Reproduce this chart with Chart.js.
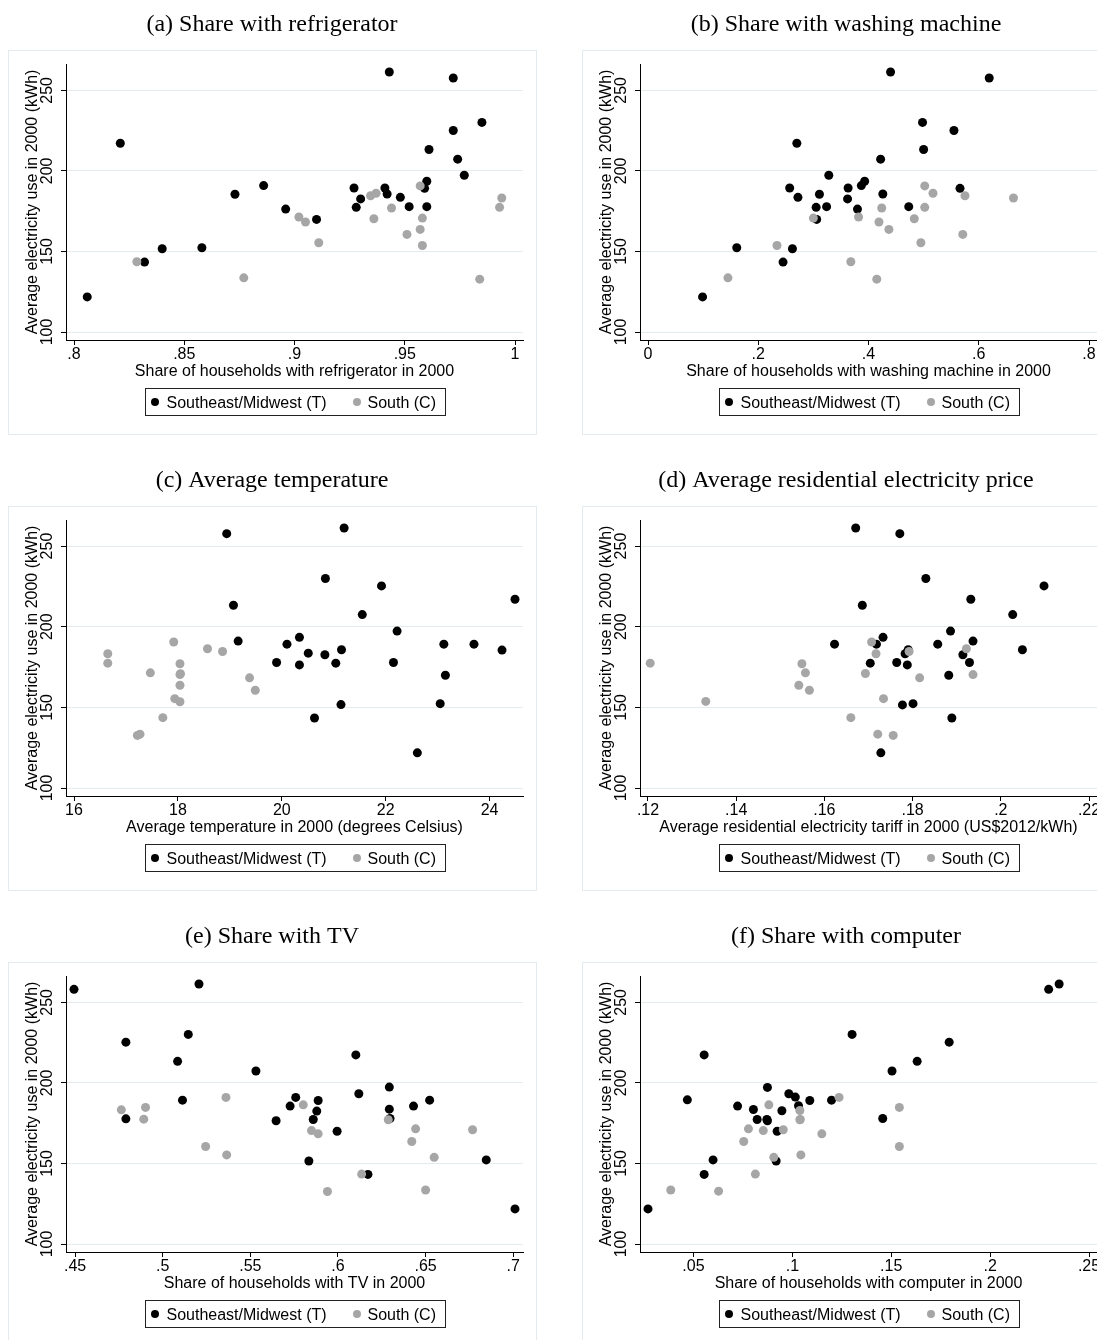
<!DOCTYPE html>
<html>
<head>
<meta charset="utf-8">
<script src="https://cdn.jsdelivr.net/npm/chart.js@4.4.0/dist/chart.umd.min.js"></script>
<style>
  html, body { margin: 0; padding: 0; background: #fff; }
  body { width: 1097px; height: 1340px; overflow: hidden; position: relative; }
  canvas { position: absolute; }
</style>
</head>
<body>
<canvas id="pa" width="574" height="456" style="left:0;top:0"></canvas>
<canvas id="pb" width="574" height="456" style="left:574px;top:0"></canvas>
<canvas id="pc" width="574" height="456" style="left:0;top:456px"></canvas>
<canvas id="pd" width="574" height="456" style="left:574px;top:456px"></canvas>
<canvas id="pe" width="574" height="456" style="left:0;top:912px"></canvas>
<canvas id="pf" width="574" height="456" style="left:574px;top:912px"></canvas>
<script>
// y axis, shared by all panels
const yTicks = [100, 150, 200, 250];
const yTickLabels = ["100", "150", "200", "250"];
const yTitle = "Average electricity use in 2000 (kWh)";
const legendLabels = ["Southeast/Midwest (T)", "South (C)"];

// (a) refrigerator
const fridgeTicks = [0.8, 0.85, 0.9, 0.95, 1];
const fridgeLabels = [".8", ".85", ".9", ".95", "1"];
const fridgeT = [[.806,121.8],[.821,217.2],[.832,143.4],[.840,151.7],[.858,152.3],[.873,185.5],[.886,190.9],[.896,176.3],[.910,169.9],[.927,189.4],[.928,177.4],[.930,182.6],[.941,189.4],[.942,185.7],[.943,261.4],[.948,183.6],[.952,177.8],[.959,189.2],[.960,193.6],[.960,177.8],[.961,213.3],[.972,257.7],[.972,225.1],[.974,207.3],[.977,197.3],[.985,230.1]];
const fridgeC = [[.8285,143.6],[.877,133.6],[.902,171.4],[.905,168.3],[.911,155.4],[.9345,184.6],[.937,186.1],[.936,170.3],[.944,177.0],[.951,160.6],[.957,163.7],[.957,190.7],[.958,170.7],[.958,153.7],[.984,132.8],[.993,177.4],[.994,183.2]];

// (b) washing machine
const washTicks = [0, 0.2, 0.4, 0.6, 0.8];
const washLabels = ["0", ".2", ".4", ".6", ".8"];
const washT = [[.099,121.8],[.161,152.3],[.245,143.4],[.257,189.4],[.270,217.2],[.262,151.7],[.272,183.6],[.305,177.4],[.306,169.9],[.311,185.5],[.324,177.8],[.328,197.3],[.363,189.4],[.362,182.6],[.380,176.3],[.387,190.9],[.393,193.6],[.422,207.3],[.426,185.7],[.440,261.4],[.473,177.8],[.498,230.1],[.500,213.3],[.555,225.1],[.566,189.2],[.619,257.7]];
const washC = [[.145,133.6],[.234,153.7],[.300,170.7],[.368,143.6],[.382,171.4],[.415,132.8],[.419,168.3],[.424,177.0],[.437,163.7],[.483,170.3],[.495,155.4],[.502,190.7],[.502,177.4],[.517,186.1],[.571,160.6],[.575,184.6],[.663,183.2]];

// (c) temperature
const tempTicks = [16, 18, 20, 22, 24];
const tempLabels = ["16", "18", "20", "22", "24"];
const tempT = [[18.94,257.7],[19.07,213.3],[19.16,191.1],[19.90,177.8],[20.10,189.2],[20.34,193.4],[20.34,176.3],[20.51,183.6],[20.63,143.4],[20.83,182.6],[20.84,229.9],[21.04,177.4],[21.14,151.7],[21.15,185.7],[21.20,261.2],[21.55,207.5],[21.92,225.3],[22.15,177.8],[22.22,197.3],[22.61,121.8],[23.05,152.3],[23.12,189.2],[23.15,169.9],[23.70,189.2],[24.24,185.5],[24.49,217.0]];
const tempC = [[16.65,183.2],[16.65,177.4],[17.22,132.6],[17.27,133.4],[17.47,171.4],[17.71,143.6],[17.92,190.5],[17.94,155.4],[18.04,177.0],[18.04,170.3],[18.05,170.9],[18.04,163.7],[18.04,153.5],[18.57,186.3],[18.86,184.6],[19.38,168.3],[19.49,160.6]];

// (d) electricity price
const priceTicks = [0.12, 0.14, 0.16, 0.18, 0.2, 0.22];
const priceLabels = [".12", ".14", ".16", ".18", ".2", ".22"];
const priceT = [[.1671,261.2],[.1771,257.7],[.1830,229.9],[.2098,225.3],[.1932,217.0],[.1686,213.3],[.2027,207.5],[.1886,197.3],[.1733,193.4],[.1623,189.2],[.1718,189.2],[.1857,189.2],[.1937,191.1],[.2049,185.7],[.1790,185.7],[.1783,183.2],[.1914,182.6],[.1704,177.4],[.1764,177.8],[.1788,176.3],[.1929,177.8],[.1882,169.9],[.1777,151.5],[.1801,152.3],[.1889,143.4],[.1728,121.8]];
const priceC = [[.1205,177.4],[.1331,153.7],[.1549,177.0],[.1557,171.4],[.1542,163.7],[.1566,160.6],[.1660,143.6],[.1707,190.5],[.1717,183.2],[.1693,171.0],[.1792,184.6],[.1816,168.3],[.1734,155.4],[.1721,133.4],[.1756,132.6],[.1922,186.3],[.1937,170.3]];

// (e) TV
const tvTicks = [0.45, 0.5, 0.55, 0.6, 0.65, 0.7];
const tvLabels = [".45", ".5", ".55", ".6", ".65", ".7"];
const tvT = [[.4494,258.1],[.5207,261.4],[.4790,225.3],[.5146,230.1],[.5085,213.4],[.5532,207.4],[.5113,189.3],[.4790,177.7],[.6102,217.4],[.6119,193.3],[.6293,197.4],[.6293,183.7],[.6297,177.9],[.6431,185.6],[.6523,189.3],[.5759,191.0],[.5727,185.6],[.5887,189.1],[.5879,182.5],[.5859,177.3],[.5647,176.5],[.5995,170.0],[.5834,151.5],[.6171,143.2],[.6846,152.2],[.7010,121.8]];
const tvC = [[.4764,183.3],[.4892,177.5],[.4902,184.8],[.5361,191.0],[.5245,160.5],[.5365,155.3],[.5802,186.4],[.5849,170.4],[.5887,168.4],[.5940,132.6],[.6135,143.4],[.6287,177.1],[.6421,163.6],[.6443,171.5],[.6549,153.8],[.6500,133.5],[.6768,170.9]];

// (f) computer
const pcTicks = [0.05, 0.1, 0.15, 0.2, 0.25];
const pcLabels = [".05", ".1", ".15", ".2", ".25"];
const pcT = [[.0270,121.8],[.0469,189.5],[.0554,217.4],[.0554,143.2],[.0599,152.2],[.0723,185.6],[.0803,183.5],[.0822,177.3],[.0871,177.3],[.0874,176.5],[.0874,197.2],[.0923,170.0],[.0918,151.5],[.0947,182.7],[.0982,193.3],[.1015,191.2],[.1031,185.8],[.1088,189.1],[.1198,189.3],[.1302,230.1],[.1457,177.9],[.1504,207.4],[.1631,213.4],[.1793,225.3],[.2296,258.1],[.2349,261.4]];
const pcC = [[.0385,133.5],[.0627,132.8],[.0754,163.6],[.0778,171.5],[.0813,143.4],[.0853,170.4],[.0881,186.4],[.0906,153.8],[.0954,170.9],[.1038,182.9],[.1040,177.3],[.1038,177.1],[.1043,155.3],[.1149,168.4],[.1236,191.0],[.1541,184.8],[.1541,160.5]];

const SANS = "'Liberation Sans', Arial, Helvetica, sans-serif";
const SERIF = "'Liberation Serif', 'Times New Roman', serif";
const LIGHT = "#e3ebee";
const GRAY = "#a6a6a6";

const panels = [
  { id: "pa", title: "(a) Share with refrigerator", xTitle: "Share of households with refrigerator in 2000", ticks: fridgeTicks, labels: fridgeLabels, T: fridgeT, C: fridgeC },
  { id: "pb", title: "(b) Share with washing machine", xTitle: "Share of households with washing machine in 2000", ticks: washTicks, labels: washLabels, T: washT, C: washC },
  { id: "pc", title: "(c) Average temperature", xTitle: "Average temperature in 2000 (degrees Celsius)", ticks: tempTicks, labels: tempLabels, T: tempT, C: tempC },
  { id: "pd", title: "(d) Average residential electricity price", xTitle: "Average residential electricity tariff in 2000 (US$2012/kWh)", ticks: priceTicks, labels: priceLabels, T: priceT, C: priceC },
  { id: "pe", title: "(e) Share with TV", xTitle: "Share of households with TV in 2000", ticks: tvTicks, labels: tvLabels, T: tvT, C: tvC },
  { id: "pf", title: "(f) Share with computer", xTitle: "Share of households with computer in 2000", ticks: pcTicks, labels: pcLabels, T: pcT, C: pcC }
];

// plot region is 457 x 276 px, with an 8 px margin inside the axes (Stata style)
function axisRange(ticks, vals, len) {
  const lo = Math.min(ticks[0], ...vals);
  const hi = Math.max(ticks[ticks.length - 1], ...vals);
  const pad = (hi - lo) * 8 / (len - 16);
  return [lo - pad, hi + pad];
}

const decor = {
  id: "decor",
  beforeDraw(chart) {
    const ctx = chart.ctx;
    ctx.save();
    ctx.strokeStyle = LIGHT;
    ctx.lineWidth = 1;
    ctx.strokeRect(8.5, 50.5, 528, 384);
    ctx.restore();
  },
  afterDraw(chart) {
    const o = chart.options.plugins.decor;
    const ctx = chart.ctx;
    const area = chart.chartArea;
    const ys = chart.scales.y;
    const cx = (area.left + area.right) / 2;
    ctx.save();
    ctx.fillStyle = "#000";

    // panel title
    ctx.font = "24px " + SERIF;
    ctx.textAlign = "center";
    ctx.textBaseline = "alphabetic";
    ctx.fillText(o.title, 272, 31);

    // rotated y tick labels
    ctx.font = "16px " + SANS;
    ys.ticks.forEach((t, i) => {
      ctx.save();
      ctx.translate(48, ys.getPixelForValue(t.value));
      ctx.rotate(-Math.PI / 2);
      ctx.textAlign = "center";
      ctx.textBaseline = "middle";
      ctx.fillText(yTickLabels[i], 0, 0);
      ctx.restore();
    });

    // y title
    ctx.save();
    ctx.translate(37, (area.top + area.bottom) / 2);
    ctx.rotate(-Math.PI / 2);
    ctx.textAlign = "center";
    ctx.fillText(yTitle, 0, 0);
    ctx.restore();

    // x title
    ctx.textAlign = "center";
    ctx.fillText(o.xTitle, cx, 376);

    // legend
    const lx = Math.round(cx - 150) + 0.5;
    ctx.strokeStyle = "#222";
    ctx.lineWidth = 1;
    ctx.strokeRect(lx, 388.5, 300, 27);
    ctx.beginPath();
    ctx.arc(lx + 9.5, 402, 4, 0, Math.PI * 2);
    ctx.fill();
    ctx.fillStyle = GRAY;
    ctx.beginPath();
    ctx.arc(lx + 211.5, 402, 4, 0, Math.PI * 2);
    ctx.fill();
    ctx.fillStyle = "#000";
    ctx.textAlign = "left";
    ctx.fillText(legendLabels[0], lx + 21, 408);
    ctx.fillText(legendLabels[1], lx + 222, 408);
    ctx.restore();
  }
};

panels.forEach(p => {
  const xr = axisRange(p.ticks, p.T.concat(p.C).map(d => d[0]), 457);
  const yr = axisRange(yTicks, p.T.concat(p.C).map(d => d[1]), 276);
  new Chart(document.getElementById(p.id), {
    type: "scatter",
    data: {
      datasets: [
        { label: legendLabels[0], data: p.T.map(d => ({ x: d[0], y: d[1] })), backgroundColor: "#000", borderWidth: 0, pointRadius: 4.5, order: 2 },
        { label: legendLabels[1], data: p.C.map(d => ({ x: d[0], y: d[1] })), backgroundColor: GRAY, borderWidth: 0, pointRadius: 4.5, order: 1 }
      ]
    },
    options: {
      responsive: false,
      animation: false,
      events: [],
      layout: { padding: { top: 64, left: 0, right: 51, bottom: 0 } },
      plugins: {
        legend: { display: false },
        tooltip: { enabled: false },
        decor: { title: p.title, xTitle: p.xTitle }
      },
      scales: {
        x: {
          type: "linear",
          min: xr[0],
          max: xr[1],
          afterBuildTicks: s => { s.ticks = p.ticks.map(v => ({ value: v })); },
          afterFit: s => { s.height = 116; },
          ticks: { callback: (v, i) => p.labels[i], font: { family: SANS, size: 16 }, color: "#000", padding: 0, maxRotation: 0, autoSkip: false },
          grid: { drawOnChartArea: false, drawTicks: true, tickLength: 5, tickColor: "#000" },
          border: { display: true, color: "#000", width: 1 }
        },
        y: {
          type: "linear",
          min: yr[0],
          max: yr[1],
          afterBuildTicks: s => { s.ticks = yTicks.map(v => ({ value: v })); },
          afterFit: s => { s.width = 66; },
          ticks: { display: false },
          grid: { color: LIGHT, lineWidth: 1, drawTicks: true, tickLength: 5, tickColor: "#000" },
          border: { display: true, color: "#000", width: 1 }
        }
      }
    },
    plugins: [decor]
  });
});
</script>
</body>
</html>
